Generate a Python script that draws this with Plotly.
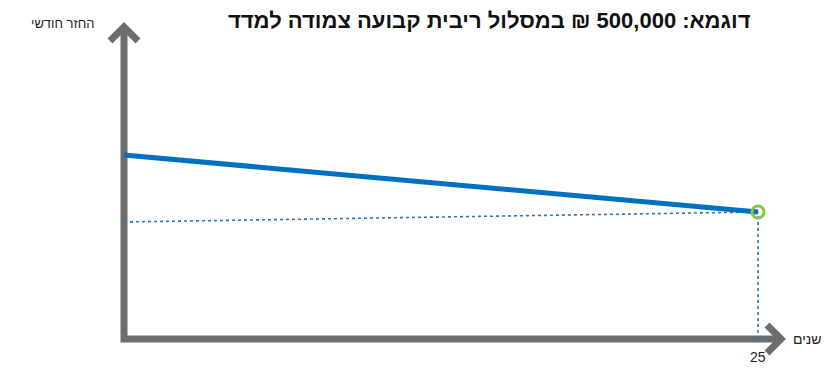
import plotly.graph_objects as go

# Data (arbitrary units of monthly repayment, years)
years = [0, 25]
payment_linked = [184, 127]        # nominal monthly repayment (solid line)
payment_real_ref = [117, 127]      # dotted reference line
end_year = [25]
end_payment = [127]
x_tick_labels = ["25"]

title_text = "דוגמא: 500,000 ₪ במסלול ריבית קבועה צמודה למדד"
y_label = "החזר חודשי"
x_label = "שנים"

PAGE_W, PAGE_H = 839, 378
OFF = 8                            # default body margin of the html page
W, H = PAGE_W - OFF, PAGE_H - OFF
X0PX, X25PX = 124, 758
k = 25 / (X25PX - X0PX)           # data units per pixel (x)
Y0PX = 339                         # page pixel row of y = 0


def px_x(p):
    return (p - X0PX) * k


def px_y(p):
    return Y0PX - p


GREY = "#6d6d71"
BLUE = "#0070c0"
DOT = "#2e75b6"
GREEN = "#8cc63e"

fig = go.Figure()

# axis lines with arrow heads (decoration)
fig.add_trace(go.Scatter(
    x=[px_x(124), px_x(124), px_x(781)],
    y=[px_y(27), px_y(339), px_y(339)],
    mode="lines", line=dict(color=GREY, width=7), hoverinfo="skip", showlegend=False))
fig.add_trace(go.Scatter(
    x=[px_x(110), px_x(124), px_x(138)],
    y=[px_y(41), px_y(27), px_y(41)],
    mode="lines", line=dict(color=GREY, width=7), hoverinfo="skip", showlegend=False))
fig.add_trace(go.Scatter(
    x=[px_x(767), px_x(781), px_x(767)],
    y=[px_y(325), px_y(339), px_y(353)],
    mode="lines", line=dict(color=GREY, width=7), hoverinfo="skip", showlegend=False))

# dotted guide lines
fig.add_trace(go.Scatter(
    x=years, y=payment_real_ref, mode="lines",
    line=dict(color=DOT, width=1.6, dash="dot"), hoverinfo="skip", showlegend=False))
fig.add_trace(go.Scatter(
    x=[end_year[0], end_year[0]], y=[0, end_payment[0]], mode="lines",
    line=dict(color=DOT, width=1.6, dash="dot"), hoverinfo="skip", showlegend=False))

# main line
fig.add_trace(go.Scatter(
    x=years, y=payment_linked, mode="lines",
    line=dict(color=BLUE, width=5), showlegend=False))

# end marker
fig.add_trace(go.Scatter(
    x=end_year, y=end_payment, mode="markers",
    marker=dict(size=12, color="rgba(255,255,255,0)", line=dict(color=GREEN, width=3)),
    showlegend=False))

fig.update_xaxes(range=[px_x(OFF), px_x(PAGE_W)], visible=False, fixedrange=True)
fig.update_yaxes(range=[px_y(PAGE_H), px_y(OFF)], visible=False, fixedrange=True)

fig.add_annotation(x=px_x(489), y=px_y(20), text="<b>" + title_text + "</b>",
                   showarrow=False, font=dict(family="Liberation Sans", size=22, color="#111111"),
                   xanchor="center", yanchor="middle")
fig.add_annotation(x=px_x(63), y=px_y(23), text=y_label, showarrow=False,
                   font=dict(family="Liberation Sans", size=13, color="#222222"),
                   xanchor="center", yanchor="middle")
fig.add_annotation(x=px_x(807), y=px_y(339), text=x_label, showarrow=False,
                   font=dict(family="Liberation Sans", size=14, color="#222222"),
                   xanchor="center", yanchor="middle")
fig.add_annotation(x=end_year[0], y=px_y(357), text=x_tick_labels[0], showarrow=False,
                   font=dict(family="Liberation Sans", size=14, color="#222222"),
                   xanchor="center", yanchor="middle")

fig.update_layout(width=W, height=H, margin=dict(l=0, r=0, t=0, b=0),
                  paper_bgcolor="white", plot_bgcolor="white")

fig.write_html("out.html")
